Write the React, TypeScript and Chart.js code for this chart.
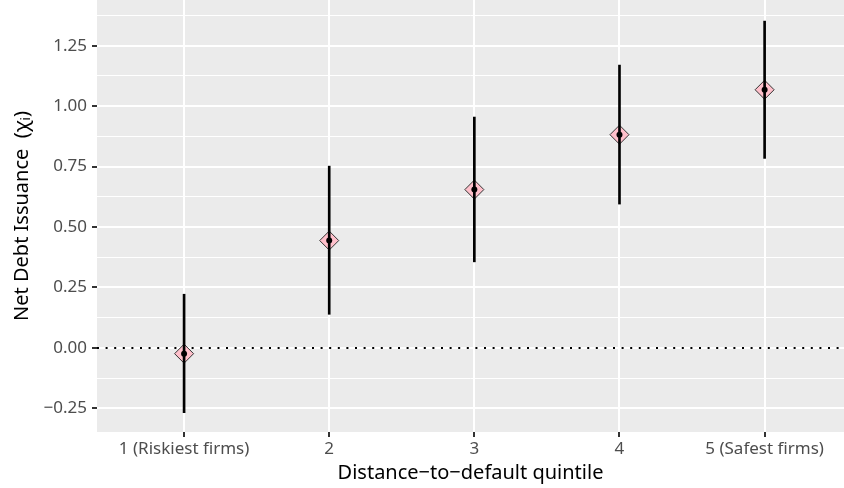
import React, { useEffect, useRef } from "react";
import { Chart, registerables } from "chart.js";

Chart.register(...registerables);

// ---- data ----
const categories = ["1 (Riskiest firms)", "2", "3", "4", "5 (Safest firms)"];
const estimates = [-0.024, 0.444, 0.655, 0.882, 1.068];
const lowerCI = [-0.268, 0.139, 0.356, 0.595, 0.784];
const upperCI = [0.222, 0.752, 0.955, 1.17, 1.352];
const yTickValues = [-0.25, -0.125, 0, 0.125, 0.25, 0.375, 0.5, 0.625, 0.75, 0.875, 1, 1.125, 1.25, 1.375];
const yMajorValues = [-0.25, 0, 0.25, 0.5, 0.75, 1, 1.25];
const yMajorLabels = ["\u22120.25", "0.00", "0.25", "0.50", "0.75", "1.00", "1.25"];
const referenceLine = 0;

const xTitle = "Distance\u2212to\u2212default quintile";
const yTitle = "Net Debt Issuance  (\u03C7\u1D62)";

const X_MIN = -0.6;
const X_MAX = 4.547;
const Y_MIN = -0.348;
const Y_MAX = 1.4393;

const FONT = "'Noto Sans', 'Open Sans', 'DejaVu Sans', sans-serif";

const isMajor = (v: number) => yMajorValues.some((m) => Math.abs(m - v) < 1e-6);

const panelBg = {
  id: "panelBg",
  beforeDraw(chart: any) {
    const { ctx, chartArea } = chart;
    const { left, top, right, bottom } = chartArea;
    ctx.save();
    ctx.fillStyle = "#EBEBEB";
    ctx.fillRect(left, top, right - left, bottom - top);
    ctx.restore();
  },
};

const zeroPadding = (s: any) => {
  s.paddingLeft = 0;
  s.paddingRight = 0;
  s.paddingTop = 0;
  s.paddingBottom = 0;
};

export default function App() {
  const ref = useRef<HTMLCanvasElement | null>(null);

  useEffect(() => {
    if (!ref.current) return;
    const points = categories.map((_, i) => ({ x: i, y: estimates[i] }));
    const bars = categories.map((_, i) => ({ x: i, y: [lowerCI[i], upperCI[i]] }));

    const chart = new Chart(ref.current, {
      type: "scatter",
      data: {
        datasets: [
          {
            type: "line",
            data: [
              { x: X_MIN, y: referenceLine },
              { x: X_MAX, y: referenceLine },
            ],
            borderColor: "#000000",
            borderWidth: 2,
            borderDash: [2, 6.6],
            pointRadius: 0,
            fill: false,
            order: 4,
          } as any,
          {
            type: "scatter",
            data: points,
            pointStyle: "rectRot",
            pointRadius: 9.5,
            backgroundColor: "#FFC0CB",
            borderColor: "#333333",
            borderWidth: 1,
            order: 3,
          } as any,
          {
            type: "bar",
            data: bars as any,
            backgroundColor: "#000000",
            borderWidth: 0,
            barThickness: 2,
            grouped: false,
            order: 2,
          } as any,
          {
            type: "scatter",
            data: points,
            pointStyle: "circle",
            pointRadius: 3,
            backgroundColor: "#000000",
            borderWidth: 0,
            order: 1,
          } as any,
        ],
      },
      options: {
        responsive: false,
        animation: false,
        events: [],
        layout: { padding: 0, autoPadding: false },
        plugins: {
          legend: { display: false },
          tooltip: { enabled: false },
        },
        scales: {
          x: {
            type: "linear",
            min: X_MIN,
            max: X_MAX,
            offset: false,
            afterBuildTicks: (s: any) => {
              s.ticks = categories.map((_, i) => ({ value: i }));
            },
            afterFit: (s: any) => {
              s.height = 56;
              zeroPadding(s);
            },
            ticks: {
              autoSkip: false,
              maxRotation: 0,
              minRotation: 0,
              padding: 2,
              color: "#4D4D4D",
              font: { family: FONT, size: 17 },
              callback: (v: any) => categories[Math.round(Number(v))] ?? "",
            },
            grid: {
              offset: false,
              color: "#FFFFFF",
              lineWidth: 2,
              drawTicks: true,
              tickLength: 5,
              tickColor: "#333333",
              tickWidth: 2,
            },
            border: { display: false },
            title: {
              display: true,
              text: xTitle,
              color: "#000000",
              font: { family: FONT, size: 20 },
              padding: { top: 0, bottom: 3 },
            },
          },
          y: {
            type: "linear",
            min: Y_MIN,
            max: Y_MAX,
            afterBuildTicks: (s: any) => {
              s.ticks = yTickValues.map((v) => ({ value: v }));
            },
            afterFit: (s: any) => {
              s.width = 97;
              zeroPadding(s);
            },
            ticks: {
              autoSkip: false,
              padding: 5,
              color: "#4D4D4D",
              font: { family: FONT, size: 17 },
              callback: (v: any) => {
                const n = Number(v);
                const idx = yMajorValues.findIndex((m) => Math.abs(m - n) < 1e-6);
                return idx >= 0 ? yMajorLabels[idx] : "";
              },
            },
            grid: {
              color: "#FFFFFF",
              lineWidth: (c: any) => (c.tick && isMajor(c.tick.value) ? 2 : 1),
              drawTicks: true,
              tickLength: 5,
              tickColor: (c: any) => (c.tick && isMajor(c.tick.value) ? "#333333" : "rgba(0,0,0,0)"),
              tickWidth: 2,
            },
            border: { display: false },
            title: {
              display: true,
              text: yTitle,
              color: "#000000",
              font: { family: FONT, size: 20 },
              padding: { top: 10, bottom: 0 },
            },
          },
        },
      } as any,
      plugins: [panelBg],
    });

    return () => chart.destroy();
  }, []);

  return (
    <div style={{ position: "absolute", left: 0, top: 0, width: 844, height: 488, background: "#FFFFFF" }}>
      <canvas ref={ref} width={844} height={488} style={{ display: "block" }} />
    </div>
  );
}
